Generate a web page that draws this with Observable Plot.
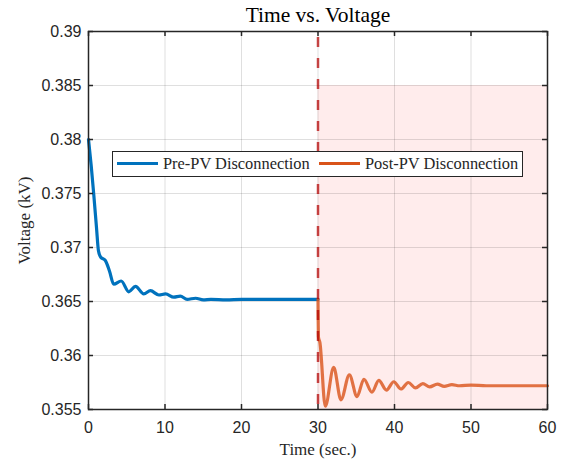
<!DOCTYPE html>
<html><head><meta charset="utf-8">
<script src="https://cdn.jsdelivr.net/npm/d3@7"></script>
<script src="https://cdn.jsdelivr.net/npm/@observablehq/plot@0.6"></script>
<style>
body{margin:0;background:#fff;}
#wrap{position:relative;width:563px;height:463px;overflow:hidden;}
#legend{position:absolute;left:112px;top:151px;width:409px;height:24px;border:1.2px solid #262626;background:#fff;font-family:"Liberation Serif","Times New Roman",serif;font-size:16.4px;color:#262626;}
#legend .sw{position:absolute;top:10px;height:3px;width:41px;}
#legend .lb{position:absolute;top:1px;line-height:22px;white-space:nowrap;}
</style></head><body><div id="wrap"></div><script>
const preTime = [0, 0.35, 0.7, 1.05, 1.3, 1.6, 2.2, 2.75, 3.3, 4.27, 5.27, 6.14, 7.23, 8.1, 9.2, 10.07, 11.15, 12.0, 12.9, 14.0, 15.0, 16.0, 18.0, 20.0, 25.0, 30.0];
const preVolt = [0.3800, 0.3776, 0.3748, 0.3718, 0.3697, 0.3691, 0.3688, 0.3678, 0.3666, 0.3669, 0.3659, 0.3664, 0.3657, 0.3660, 0.3656, 0.3657, 0.3654, 0.3655, 0.3652, 0.3653, 0.36515, 0.3652, 0.36515, 0.3652, 0.3652, 0.3652];
const postTime = [30.0, 30.06, 30.25, 30.95, 32.05, 33.0, 34.1, 35.1, 36.0, 37.05, 37.95, 38.95, 39.9, 40.85, 41.8, 42.75, 43.7, 44.6, 45.6, 46.5, 47.5, 48.5, 50.0, 52.0, 55.0, 60.0];
const postVolt = [0.3652, 0.3617, 0.3612, 0.3553, 0.3589, 0.3559, 0.3582, 0.3562, 0.3578, 0.3566, 0.3577, 0.3568, 0.35757, 0.3569, 0.3575, 0.3570, 0.3574, 0.3571, 0.35735, 0.35715, 0.3573, 0.3572, 0.35725, 0.3572, 0.3572, 0.3572];
const xTicks = [0, 10, 20, 30, 40, 50, 60];
const yTicks = [0.355, 0.36, 0.365, 0.37, 0.375, 0.38, 0.385, 0.39];
const yTickLabels = ["0.355", "0.36", "0.365", "0.37", "0.375", "0.38", "0.385", "0.39"];
const disconnectTime = [30];
const shadeT = [30, 60];
const shadeV = [0.355, 0.385];
const seriesNames = ["Pre-PV Disconnection", "Post-PV Disconnection"];
const seriesColors = ["#0072BD", "#D95319"];
const titleText = "Time vs. Voltage";
const xLabel = "Time (sec.)";
const yLabel = "Voltage (kV)";

const pre = preTime.map((t, i) => ({t, v: preVolt[i]}));
const post = postTime.map((t, i) => ({t, v: postVolt[i]}));
const shade = [{x1: shadeT[0], x2: shadeT[1], y1: shadeV[0], y2: shadeV[1]}];
const serif = "Liberation Serif, Times New Roman, serif";
const frameH = 463 - 31 - 54;
const frameW = 563 - 88 - 16;

const chart = Plot.plot({
  width: 563, height: 463,
  marginLeft: 88, marginRight: 16, marginTop: 31, marginBottom: 54,
  style: {fontFamily: "'Liberation Sans', Arial, sans-serif", fontSize: "16px", color: "#262626", background: "#fff"},
  x: {domain: [0, 60], label: null},
  y: {domain: [0.355, 0.39], label: null},
  marks: [
    Plot.rect(shade, {x1: "x1", x2: "x2", y1: "y1", y2: "y2", fill: "#ff0000", fillOpacity: 0.075}),
    Plot.gridX(xTicks, {stroke: "#262626", strokeOpacity: 0.15, strokeWidth: 1}),
    Plot.gridY(yTicks, {stroke: "#262626", strokeOpacity: 0.15, strokeWidth: 1}),
    Plot.line(pre, {x: "t", y: "v", stroke: seriesColors[0], strokeWidth: 3.2, curve: "monotone-x"}),
    Plot.line(post, {x: "t", y: "v", stroke: seriesColors[1], strokeOpacity: 0.8, strokeWidth: 3.2, curve: "monotone-x"}),
    Plot.ruleX(disconnectTime, {stroke: "#b30000", strokeOpacity: 0.72, strokeWidth: 2.5, strokeDasharray: "10,11", strokeDashoffset: 15}),
    Plot.frame({stroke: "#262626", strokeWidth: 1.5}),
    Plot.tickX(xTicks, {x: d => d, stroke: "#262626", strokeWidth: 1.5, insetTop: frameH - 5}),
    Plot.tickX(xTicks, {x: d => d, stroke: "#262626", strokeWidth: 1.5, insetBottom: frameH - 5}),
    Plot.tickY(yTicks, {y: d => d, stroke: "#262626", strokeWidth: 1.5, insetRight: frameW - 5}),
    Plot.tickY(yTicks, {y: d => d, stroke: "#262626", strokeWidth: 1.5, insetLeft: frameW - 5}),
    Plot.axisX(xTicks, {tickSize: 0, tickPadding: 12, label: null}),
    Plot.axisY(yTicks, {tickSize: 0, tickPadding: 7, label: null, tickFormat: (d) => yTickLabels[yTicks.indexOf(d)]}),
    Plot.text([titleText], {frameAnchor: "top", textAnchor: "middle", lineAnchor: "middle", dy: -16, fontFamily: serif, fontSize: 21.5, fill: "#000"}),
    Plot.text([xLabel], {frameAnchor: "bottom", textAnchor: "middle", lineAnchor: "middle", dy: 40, fontFamily: serif, fontSize: 17, fill: "#262626"}),
    Plot.text([yLabel], {frameAnchor: "left", textAnchor: "middle", lineAnchor: "middle", dx: -64, rotate: -90, fontFamily: serif, fontSize: 17, fill: "#262626"})
  ]
});
const wrap = document.getElementById("wrap");
wrap.appendChild(chart);
const legend = document.createElement("div");
legend.id = "legend";
legend.innerHTML =
  `<div class="sw" style="left:4px;background:${seriesColors[0]}"></div><div class="lb" style="left:50px">${seriesNames[0]}</div>` +
  `<div class="sw" style="left:206px;background:${seriesColors[1]}"></div><div class="lb" style="left:252px">${seriesNames[1]}</div>`;
wrap.appendChild(legend);
</script></body></html>
